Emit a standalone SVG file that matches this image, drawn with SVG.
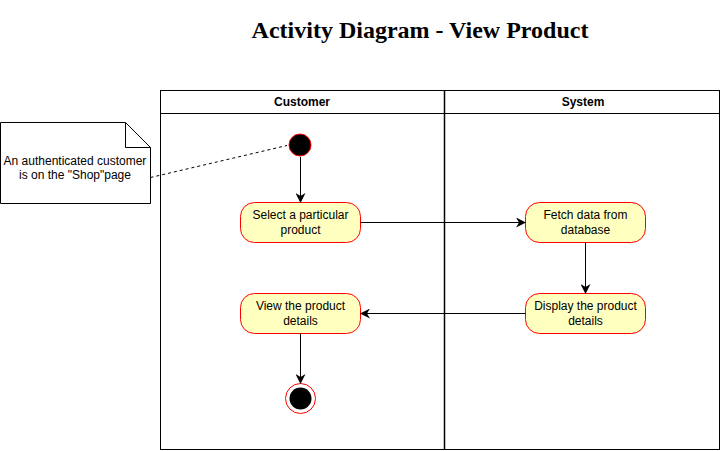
<svg xmlns="http://www.w3.org/2000/svg" width="721" height="451" viewBox="0 0 721 451">
<defs>
<style>
.lane{fill:none;stroke:#000;stroke-width:1}
.hdr{font-family:"Liberation Sans",Arial,sans-serif;font-size:12px;font-weight:bold;fill:#000;text-anchor:middle}
.act{fill:#ffffc0;stroke:#ff0000;stroke-width:1}
.txt{font-family:"Liberation Sans",Arial,sans-serif;font-size:12px;fill:#000;text-anchor:middle}
.edge{fill:none;stroke:#000;stroke-width:1}
</style>
<marker id="arr" viewBox="0 0 10 10" refX="9" refY="5" markerWidth="10" markerHeight="10" markerUnits="userSpaceOnUse" orient="auto">
<path d="M0,0 L10,5 L0,10 L3,5 Z" fill="#000"/>
</marker>
</defs>
<rect width="721" height="451" fill="#fff"/>
<text x="420" y="38" font-family="'Liberation Serif','Times New Roman',serif" font-size="24" font-weight="bold" text-anchor="middle" fill="#000">Activity Diagram - View Product</text>
<g id="pool">
<rect class="lane" x="160.5" y="90.5" width="559" height="359"/>
<line class="lane" x1="160.5" y1="113.5" x2="719.5" y2="113.5"/>
<line x1="444.5" y1="90.5" x2="444.5" y2="449.5" stroke="#000" stroke-width="1.5"/>
<text class="hdr" x="302" y="106">Customer</text>
<text class="hdr" x="583" y="106">System</text>
</g>
<g id="note">
<path d="M0.5,122.5 H125.5 L150.5,147.5 V203.5 H0.5 Z" fill="#fff" stroke="#000"/>
<path d="M125.5,122.5 V147.5 H150.5" fill="none" stroke="#000"/>
<text class="txt" x="75" y="165">An authenticated customer</text>
<text class="txt" x="75" y="179">is on the "Shop"page</text>
</g>
<g id="start">
<circle cx="300" cy="145" r="11" fill="#000" stroke="#ff0000"/>
</g>
<g id="select">
<rect class="act" x="240.5" y="202.5" width="120" height="40" rx="14"/>
<text class="txt" x="300.5" y="219">Select a particular</text>
<text class="txt" x="300.5" y="234">product</text>
</g>
<g id="fetch">
<rect class="act" x="525.5" y="202.5" width="120" height="40" rx="14"/>
<text class="txt" x="585.5" y="219">Fetch data from</text>
<text class="txt" x="585.5" y="234">database</text>
</g>
<g id="display">
<rect class="act" x="525.5" y="293.5" width="120" height="40" rx="14"/>
<text class="txt" x="585.5" y="310">Display the product</text>
<text class="txt" x="585.5" y="325">details</text>
</g>
<g id="view">
<rect class="act" x="240.5" y="293.5" width="120" height="40" rx="14"/>
<text class="txt" x="300.5" y="310">View the product</text>
<text class="txt" x="300.5" y="325">details</text>
</g>
<g id="end">
<circle cx="300.5" cy="398.5" r="15" fill="#fff" stroke="#ff0000"/>
<circle cx="300.5" cy="398.5" r="11" fill="#000"/>
</g>
<g id="connectors">
<line x1="150.5" y1="177.5" x2="287" y2="145.5" stroke="#000" stroke-dasharray="3,3"/>
<line class="edge" x1="300.5" y1="157" x2="300.5" y2="202" marker-end="url(#arr)"/>
<line class="edge" x1="360.5" y1="222.5" x2="525" y2="222.5" marker-end="url(#arr)"/>
<line class="edge" x1="585.5" y1="242.5" x2="585.5" y2="293" marker-end="url(#arr)"/>
<line class="edge" x1="525.5" y1="313.5" x2="361" y2="313.5" marker-end="url(#arr)"/>
<line class="edge" x1="300.5" y1="333.5" x2="300.5" y2="383" marker-end="url(#arr)"/>
</g>
</svg>
